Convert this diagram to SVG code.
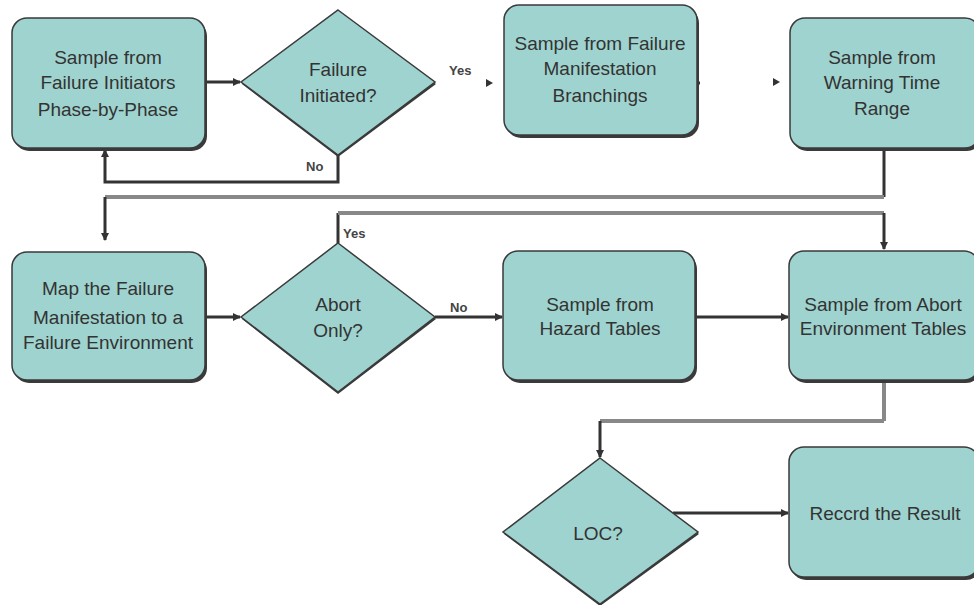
<svg xmlns="http://www.w3.org/2000/svg" width="974" height="605" viewBox="0 0 974 605">
<style>
.node{fill:#9fd3cf;stroke:#3a3a3a;stroke-width:1.5}
.shadow{fill:#3a3a3a}
.t{font-family:"Liberation Sans",Arial,sans-serif;font-size:19px;fill:#333;text-anchor:middle}
.lbl{font-family:"Liberation Sans",Arial,sans-serif;font-size:13px;font-weight:bold;fill:#444}
.dk{fill:none;stroke:#333;stroke-width:3}
.gr{fill:none;stroke:#888;stroke-width:4}
</style>
<defs>
<marker id="ah" markerWidth="8" markerHeight="8" refX="7" refY="4" orient="auto" markerUnits="userSpaceOnUse">
<path d="M0,0 L8,4 L0,8 z" fill="#333"/>
</marker>
</defs>
<rect width="974" height="605" fill="#fff"/>
<g id="connectors">
<line class="dk" x1="205" y1="82" x2="240" y2="82" marker-end="url(#ah)"/>
<path class="dk" d="M338,155 V182 H105 V150" marker-end="url(#ah)"/>
<path d="M486,79 L493,83 L486,87 z" fill="#333"/>
<line x1="697" y1="83" x2="700" y2="83" stroke="#333" stroke-width="3"/>
<path d="M773,78 L780,82 L773,86 z" fill="#333"/>
<line class="dk" x1="884" y1="148" x2="884" y2="197"/>
<line class="gr" x1="884" y1="197" x2="105" y2="197"/>
<line class="dk" x1="105" y1="197" x2="105" y2="240" marker-end="url(#ah)"/>
<line class="dk" x1="205" y1="317" x2="240" y2="317" marker-end="url(#ah)"/>
<line class="dk" x1="338" y1="243" x2="338" y2="213"/>
<line class="gr" x1="338" y1="213" x2="884" y2="213" stroke-width="5"/>
<line class="dk" x1="884" y1="213" x2="884" y2="249" marker-end="url(#ah)"/>
<line class="dk" x1="435" y1="317" x2="502" y2="317" marker-end="url(#ah)"/>
<line class="dk" x1="695" y1="317" x2="788" y2="317" marker-end="url(#ah)"/>
<line class="gr" x1="884" y1="380" x2="884" y2="421"/>
<line class="gr" x1="884" y1="421" x2="600" y2="421" stroke="#666"/>
<line class="dk" x1="600" y1="421" x2="600" y2="457" marker-end="url(#ah)"/>
<line class="dk" x1="673" y1="513" x2="788" y2="513" marker-end="url(#ah)"/>
<text class="lbl" x="449" y="75">Yes</text>
<text class="lbl" x="306" y="171">No</text>
<text class="lbl" x="343" y="238">Yes</text>
<text class="lbl" x="450" y="312">No</text>
</g>
<g id="n1">
<rect class="shadow" x="14" y="21" width="193" height="130" rx="15"/>
<rect class="node" x="12" y="18" width="193" height="130" rx="15"/>
<text class="t" x="108" y="64">Sample from</text>
<text class="t" x="108" y="89">Failure Initiators</text>
<text class="t" x="108" y="116">Phase-by-Phase</text>
</g>
<g id="d1">
<polygon class="shadow" points="338,12 436,84 338,157 242,84"/>
<polygon class="node" points="338,10 435,82 338,155 241,82"/>
<text class="t" x="338" y="76">Failure</text>
<text class="t" x="338" y="102">Initiated?</text>
</g>
<g id="n2">
<rect class="shadow" x="506" y="8" width="193" height="130" rx="15"/>
<rect class="node" x="504" y="5" width="193" height="130" rx="15"/>
<text class="t" x="600" y="50">Sample from Failure</text>
<text class="t" x="600" y="75">Manifestation</text>
<text class="t" x="600" y="102">Branchings</text>
</g>
<g id="n3">
<rect class="shadow" x="792" y="21" width="190" height="130" rx="15"/>
<rect class="node" x="790" y="18" width="190" height="130" rx="15"/>
<text class="t" x="882" y="64">Sample from</text>
<text class="t" x="882" y="89">Warning Time</text>
<text class="t" x="882" y="115">Range</text>
</g>
<g id="n4">
<rect class="shadow" x="14" y="255" width="193" height="128" rx="15"/>
<rect class="node" x="12" y="252" width="193" height="128" rx="15"/>
<text class="t" x="108" y="295">Map the Failure</text>
<text class="t" x="108" y="324">Manifestation to a</text>
<text class="t" x="108" y="349">Failure Environment</text>
</g>
<g id="d2">
<polygon class="shadow" points="338,245 436,319 338,394 242,319"/>
<polygon class="node" points="338,243 435,317 338,392 241,317"/>
<text class="t" x="338" y="311">Abort</text>
<text class="t" x="338" y="337">Only?</text>
</g>
<g id="n5">
<rect class="shadow" x="505" y="254" width="192" height="129" rx="15"/>
<rect class="node" x="503" y="251" width="192" height="129" rx="15"/>
<text class="t" x="600" y="311">Sample from</text>
<text class="t" x="600" y="335">Hazard Tables</text>
</g>
<g id="n6">
<rect class="shadow" x="791" y="254" width="190" height="129" rx="15"/>
<rect class="node" x="789" y="251" width="190" height="129" rx="15"/>
<text class="t" x="883" y="311">Sample from Abort</text>
<text class="t" x="883" y="335">Environment Tables</text>
</g>
<g id="d3">
<polygon class="shadow" points="600,460 699,534 600,606 504,534"/>
<polygon class="node" points="600,458 698,532 600,604 503,532"/>
<text class="t" x="598" y="540">LOC?</text>
</g>
<g id="n7">
<rect class="shadow" x="791" y="450" width="190" height="130" rx="15"/>
<rect class="node" x="789" y="447" width="190" height="130" rx="15"/>
<text class="t" x="885" y="520">Reccrd the Result</text>
</g>
</svg>
